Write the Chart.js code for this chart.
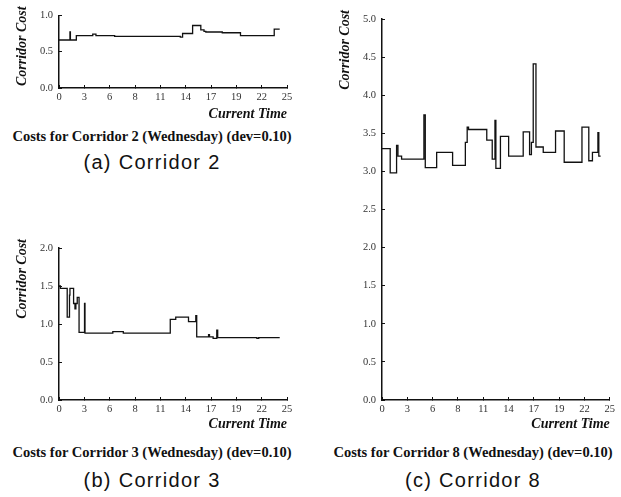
<!DOCTYPE html>
<html>
<head>
<meta charset="utf-8">
<script src="https://cdn.jsdelivr.net/npm/chart.js@4"></script>
<style>
  body { margin: 0; background: #fff; }
  #page { position: relative; width: 621px; height: 497px; overflow: hidden; }
  .box { position: absolute; }
  .ttl { position: absolute; width: 300px; text-align: center; font: bold 14.5px "Liberation Serif", serif; color: #111; white-space: nowrap; }
  .cap { position: absolute; width: 300px; text-align: center; font: 20px "Liberation Sans", sans-serif; letter-spacing: 1.3px; color: #111; white-space: nowrap; }
</style>
</head>
<body>
<div id="page">
  <div class="box" style="left:0;top:0;width:300px;height:123px"><canvas id="c2"></canvas></div>
  <div class="box" style="left:0;top:230px;width:300px;height:203px"><canvas id="c3"></canvas></div>
  <div class="box" style="left:320px;top:0;width:301px;height:433px"><canvas id="c8"></canvas></div>

  <div class="ttl" style="left:2px;top:128px">Costs for Corridor 2 (Wednesday) (dev=0.10)</div>
  <div class="cap" style="left:2px;top:151px">(a) Corridor 2</div>
  <div class="ttl" style="left:2px;top:444px">Costs for Corridor 3 (Wednesday) (dev=0.10)</div>
  <div class="cap" style="left:2px;top:469px">(b) Corridor 3</div>
  <div class="ttl" style="left:323px;top:444px">Costs for Corridor 8 (Wednesday) (dev=0.10)</div>
  <div class="cap" style="left:323px;top:469px">(c) Corridor 8</div>
</div>
<script>
// x axis: 0..25 with ten evenly spaced ticks, labels rounded
const xTickLabels = ['0', '3', '6', '8', '11', '14', '17', '19', '22', '25'];

// Corridor 2 (Wednesday)
const times2 = [0, 1.2, 1.25, 1.9, 3.7, 4.05, 6.1, 13.3, 13.55, 14.65, 15.55, 15.9, 16.1, 17.9, 19.9, 23.6, 24.2];
const costs2 = [0.66, 0.77, 0.66, 0.72, 0.74, 0.72, 0.71, 0.70, 0.75, 0.86, 0.80, 0.78, 0.77, 0.76, 0.72, 0.81, 0.81];
const yTicks2 = [0, 0.5, 1.0];

// Corridor 3 (Wednesday)
const times3 = [0, 0.15, 0.9, 1.15, 1.2, 1.6, 1.75, 1.85, 2.0, 2.2, 2.8, 2.85, 3.0, 5.9, 7.05, 12.2, 12.8, 14.2, 15.0, 15.1, 16.4, 16.5, 16.9, 17.3, 17.4, 17.6, 21.7, 21.9, 24.2];
const costs3 = [1.50, 1.47, 1.09, 1.38, 1.47, 1.27, 1.20, 1.27, 1.35, 0.89, 1.27, 0.88, 0.88, 0.90, 0.88, 1.06, 1.09, 1.03, 1.11, 0.83, 0.86, 0.83, 0.81, 0.92, 0.82, 0.82, 0.81, 0.82, 0.82];
const yTicks3 = [0, 0.5, 1.0, 1.5, 2.0];

// Corridor 8 (Wednesday)
const times8 = [0, 0.9, 1.6, 1.75, 2.15, 4.6, 4.75, 6.0, 7.75, 9.15, 9.35, 9.5, 11.5, 12.1, 12.4, 12.5, 13.0, 13.9, 15.5, 16.2, 16.4, 16.6, 16.9, 17.7, 19.05, 20.0, 21.95, 22.7, 23.1, 23.7, 23.8, 24.0];
const costs8 = [3.30, 2.98, 3.34, 3.20, 3.16, 3.74, 3.05, 3.25, 3.08, 3.38, 3.58, 3.55, 3.41, 3.16, 3.67, 3.04, 3.46, 3.20, 3.52, 3.22, 3.38, 4.41, 3.32, 3.25, 3.53, 3.12, 3.58, 3.14, 3.25, 3.51, 3.20, 3.20];
const yTicks8 = [0, 0.5, 1.0, 1.5, 2.0, 2.5, 3.0, 3.5, 4.0, 4.5, 5.0];

const yTitle = 'Corridor Cost';
const xTitle = 'Current Time';

const tickFont = { family: 'Liberation Serif', size: 10.5 };
const titleFont = { family: 'Liberation Serif', size: 14, weight: 'bold', style: 'italic' };

// rotated y title, its top end sits a bit above the plot
const yTitlePlugin = {
  id: 'yTitle',
  afterDraw(chart) {
    const ctx = chart.ctx;
    const a = chart.chartArea;
    ctx.save();
    ctx.translate(a.left - 37, a.top - 9);
    ctx.rotate(-Math.PI / 2);
    ctx.font = 'italic bold 14px "Liberation Serif"';
    ctx.fillStyle = '#111';
    ctx.textAlign = 'right';
    ctx.textBaseline = 'middle';
    ctx.fillText(yTitle, 0, 0);
    ctx.restore();
  }
};

function makeChart(id, times, costs, yTicks, pad, yWidth, xHeight) {
  const pts = times.map((t, i) => ({ x: t, y: costs[i] }));
  return new Chart(document.getElementById(id), {
    type: 'line',
    data: {
      datasets: [{
        data: pts,
        stepped: true,
        borderColor: '#111',
        borderWidth: 1.3,
        pointRadius: 0,
        fill: false
      }]
    },
    options: {
      responsive: true,
      maintainAspectRatio: false,
      animation: false,
      layout: { padding: pad },
      plugins: { legend: { display: false }, tooltip: { enabled: false } },
      scales: {
        x: {
          type: 'linear',
          min: 0,
          max: 25,
          afterBuildTicks: s => { s.ticks = xTickLabels.map((l, i) => ({ value: i * 25 / (xTickLabels.length - 1) })); },
          afterFit: s => { s.height = xHeight; },
          ticks: {
            autoSkip: false,
            maxRotation: 0,
            padding: 6,
            color: '#333',
            font: tickFont,
            callback: (v, i) => xTickLabels[i]
          },
          grid: { drawOnChartArea: false, tickLength: -3, color: '#111' },
          border: { color: '#111', width: 1.5 },
          title: { display: true, text: xTitle, align: 'end', color: '#111', font: titleFont, padding: 0 }
        },
        y: {
          min: yTicks[0],
          max: yTicks[yTicks.length - 1],
          afterBuildTicks: s => { s.ticks = yTicks.map(v => ({ value: v })); },
          afterFit: s => { s.width = yWidth; },
          ticks: {
            padding: 9,
            color: '#333',
            font: tickFont,
            callback: v => Number(v).toFixed(1)
          },
          grid: { drawOnChartArea: false, tickLength: -3, color: '#111' },
          border: { color: '#111', width: 1.5 }
        }
      }
    },
    plugins: [yTitlePlugin]
  });
}

makeChart('c2', times2, costs2, yTicks2, { top: 12, right: 13, left: 0, bottom: 0 }, 59, 35);
makeChart('c3', times3, costs3, yTicks3, { top: 18, right: 13, left: 0, bottom: 0 }, 59, 33);
makeChart('c8', times8, costs8, yTicks8, { top: 19, right: 9, left: 0, bottom: 0 }, 62, 33);
</script>
</body>
</html>
